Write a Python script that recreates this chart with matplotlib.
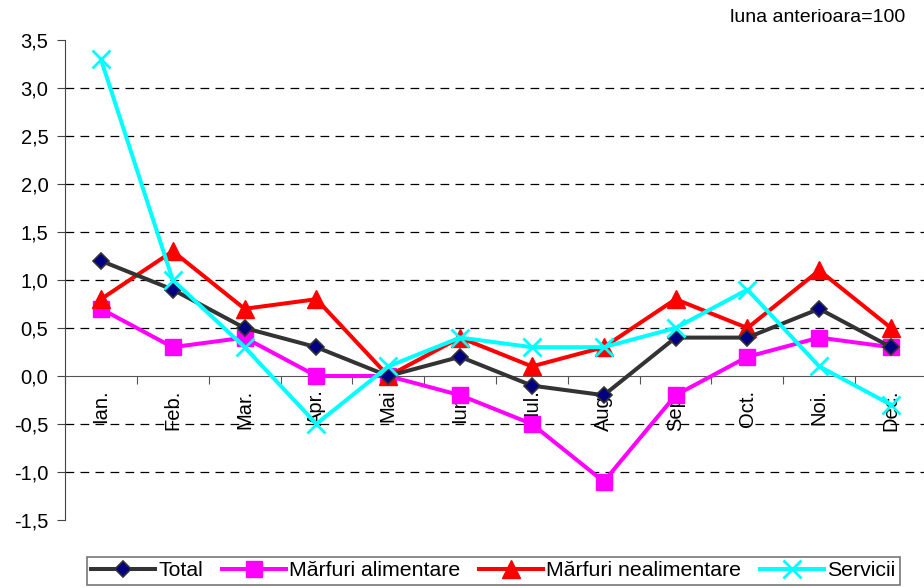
import matplotlib
matplotlib.use("Agg")
import matplotlib.pyplot as plt

months = ["Ian.", "Feb.", "Mar.", "Apr.", "Mai", "Iun.", "Iul.", "Aug.", "Sep.", "Oct.", "Noi.", "Dec."]
total = [1.2, 0.9, 0.5, 0.3, 0.0, 0.2, -0.1, -0.2, 0.4, 0.4, 0.7, 0.3]
alimentare = [0.7, 0.3, 0.4, 0.0, 0.0, -0.2, -0.5, -1.1, -0.2, 0.2, 0.4, 0.3]
nealimentare = [0.8, 1.3, 0.7, 0.8, 0.0, 0.4, 0.1, 0.3, 0.8, 0.5, 1.1, 0.5]
servicii = [3.3, 1.0, 0.3, -0.5, 0.1, 0.4, 0.3, 0.3, 0.5, 0.9, 0.1, -0.3]
yticks = [-1.5, -1.0, -0.5, 0.0, 0.5, 1.0, 1.5, 2.0, 2.5, 3.0, 3.5]

plt.rcParams["font.family"] = ["Liberation Sans", "DejaVu Sans"]

fig = plt.figure(figsize=(9.24, 5.88), dpi=100)
ax = fig.add_axes([65 / 924, 1 - 520 / 588, 862 / 924, 480 / 588])
x = list(range(len(months)))

ax.set_xlim(-0.5, 11.5)
ax.set_ylim(-1.5, 3.5)

# dashed grid, not at the ends nor at zero
for v in yticks:
    if v not in (-1.5, 0.0, 3.5):
        ax.axhline(v, color="black", lw=0.9, ls=(0, (7, 5)), zorder=1)

ax.plot(x, total, color="#333333", lw=2.9, marker="D", ms=8, mfc="#000080",
        mec="#333333", mew=1.2, label="Total", zorder=5)
ax.plot(x, alimentare, color="#ff00ff", lw=2.9, marker="s", ms=11,
        label="Mărfuri alimentare", zorder=3)
ax.plot(x, nealimentare, color="#ff0000", lw=2.9, marker="^", ms=13,
        label="Mărfuri nealimentare", zorder=4)
ax.plot(x, servicii, color="#00ffff", lw=2.9, marker="x", ms=13, mew=2,
        label="Servicii", zorder=6)

for s in ("top", "right"):
    ax.spines[s].set_visible(False)
ax.spines["bottom"].set_position(("data", 0))
ax.spines["bottom"].set_color("#555555")
ax.spines["left"].set_color("#444444")
ax.set_yticks(yticks)
ax.set_yticklabels([f"{v:.1f}".replace(".", ",") for v in yticks], fontsize=14.5)
ax.set_xticks([i - 0.5 for i in range(13)])
ax.set_xticklabels([])
ax.tick_params(axis="x", length=6, color="#555555")
ax.tick_params(axis="y", length=6, pad=6, color="#444444")

# month names sit inside the plot, under the zero line, behind the series
for i, m in enumerate(months):
    ax.text(i, -0.14, m, rotation=90, ha="center", va="top", fontsize=14.5, zorder=2)

fig.text(905 / 924, 1 - 18 / 588, "luna anterioara=100", ha="right", va="center", fontsize=14)

leg = ax.legend(loc="upper left", bbox_to_anchor=(87 / 924, 1 - 557 / 588), bbox_transform=fig.transFigure,
                ncol=4, fontsize=15.3, frameon=True, fancybox=False, edgecolor="#555555",
                handlelength=3.0, handletextpad=0.15, columnspacing=0.9, borderpad=0.2,
                borderaxespad=0)
leg.get_frame().set_linewidth(1.2)

fig.savefig("out.png", dpi=100)
